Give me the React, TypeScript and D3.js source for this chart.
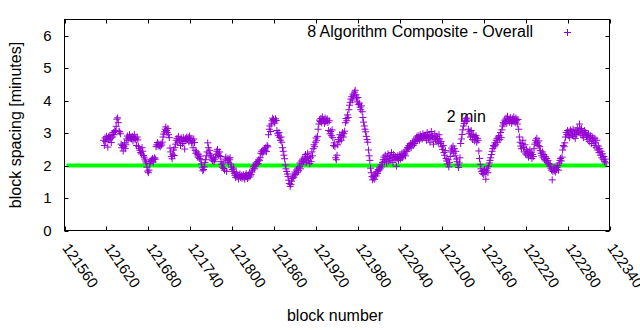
import React from "react";
import * as d3 from "d3";

// ---- data ----
const seriesName = "8 Algorithm Composite - Overall";
const firstBlock = 121616;
const spacing: number[] = [
  2.78, 2.62, 2.85, 2.74, 2.90, 2.81, 2.57, 2.88, 2.79, 2.93, 2.84, 2.71, 2.96, 2.88, 3.02, 2.95, 3.08, 3.05, 3.21, 3.43,
  3.47, 3.32, 3.06, 3.04, 2.98, 2.66, 2.55, 2.62, 2.45, 2.58, 2.70, 2.52, 2.64, 2.82, 2.91, 2.78, 2.86, 2.95, 2.84, 2.88,
  2.82, 2.90, 2.76, 2.87, 2.95, 2.80, 2.84, 2.62, 2.88, 2.79, 2.58, 2.52, 2.47, 2.40, 2.36, 2.55, 2.44, 2.31, 2.26, 2.20,
  2.14, 2.08, 1.95, 1.83, 1.78, 1.86, 2.06, 2.12, 2.18, 2.15, 2.22, 2.11, 2.19, 2.24, 2.20, 2.58, 2.64, 2.71, 2.60, 2.66,
  2.62, 2.58, 2.67, 2.63, 2.72, 2.88, 2.97, 3.04, 3.12, 3.19, 3.08, 3.02, 3.14, 2.95, 2.86, 2.54, 2.42, 2.28, 2.21, 2.35,
  2.48, 2.31, 2.55, 2.66, 2.78, 2.84, 2.72, 2.90, 2.81, 2.76, 2.62, 2.85, 2.79, 2.68, 2.87, 2.74, 2.51, 2.83, 2.77, 2.88,
  2.80, 2.86, 2.73, 2.91, 2.78, 2.84, 2.69, 2.76, 2.55, 2.82, 2.71, 2.47, 2.38, 2.42, 2.33, 2.26, 2.35, 2.22, 2.29, 2.18,
  2.05, 1.93, 1.84, 1.88, 1.96, 2.10, 2.18, 2.30, 2.42, 2.70, 2.55, 2.38, 2.47, 2.32, 2.26, 2.20, 2.15, 2.23, 2.12, 2.18,
  2.24, 2.35, 2.44, 2.50, 2.38, 2.31, 2.42, 2.28, 2.12, 2.04, 1.95, 2.08, 1.91, 1.86, 2.20, 2.26, 1.82, 2.15, 2.22, 2.10,
  2.18, 2.24, 2.05, 1.95, 1.88, 1.82, 1.92, 1.76, 1.70, 1.63, 1.78, 1.66, 1.72, 1.59, 1.68, 1.74, 1.64, 1.70, 1.61, 1.67,
  1.72, 1.63, 1.58, 1.69, 1.75, 1.66, 1.60, 1.71, 1.64, 1.78, 1.68, 1.73, 1.80, 1.86, 1.92, 1.98, 1.90, 2.02, 2.08, 2.04,
  2.12, 2.06, 2.18, 2.15, 2.24, 2.38, 2.44, 2.36, 2.48, 2.42, 2.51, 2.46, 2.55, 2.43, 2.62, 2.58, 2.95, 3.12, 3.22, 3.05,
  3.28, 3.38, 3.46, 3.42, 3.35, 3.31, 3.44, 3.39, 3.08, 2.98, 2.92, 3.02, 2.86, 2.78, 2.88, 2.72, 2.55, 2.44, 2.32, 2.21,
  2.02, 1.90, 1.82, 1.74, 1.66, 1.55, 1.45, 1.36, 1.42, 1.52, 1.60, 1.68, 1.64, 1.74, 1.80, 1.72, 1.86, 1.78, 1.92, 1.84,
  1.96, 2.08, 1.90, 2.14, 2.05, 2.20, 2.12, 2.26, 2.18, 2.34, 2.10, 2.22, 2.38, 2.16, 2.28, 2.06, 2.24, 2.12, 2.42, 2.30,
  2.52, 2.64, 2.58, 2.72, 2.85, 2.78, 2.90, 3.12, 3.28, 3.40, 3.36, 3.45, 3.32, 3.50, 3.38, 3.42, 3.30, 3.46, 3.35, 3.40,
  3.44, 3.33, 3.08, 3.38, 2.98, 3.05, 2.92, 3.10, 2.86, 2.62, 2.70, 2.58, 2.24, 2.18, 2.32, 2.64, 2.80, 2.74, 2.95, 2.86,
  2.78, 2.92, 3.02, 2.88, 2.98, 3.06, 3.32, 3.45, 3.38, 3.56, 3.48, 3.72, 3.86, 3.95, 4.05, 4.12, 4.02, 4.20, 4.15, 4.26,
  4.32, 4.18, 4.08, 3.96, 4.10, 3.88, 3.92, 3.80, 3.72, 3.84, 3.66, 3.48, 3.34, 3.22, 3.12, 3.04, 2.90, 2.80, 2.72, 2.48,
  2.30, 2.16, 1.92, 1.78, 1.66, 1.56, 1.62, 1.70, 1.58, 1.74, 1.68, 1.82, 1.76, 1.88, 1.84, 1.95, 1.90, 2.02, 1.96, 2.10,
  2.18, 2.26, 2.12, 2.32, 2.20, 2.08, 2.28, 2.36, 2.14, 2.22, 2.30, 2.16, 2.40, 2.24, 2.10, 2.34, 2.26, 2.19, 2.28, 1.98,
  2.22, 2.30, 2.16, 2.25, 2.34, 2.20, 2.28, 2.38, 2.24, 2.32, 2.42, 2.36, 2.30, 2.48, 2.44, 2.56, 2.52, 2.62, 2.58, 2.68,
  2.55, 2.64, 2.70, 2.62, 2.76, 2.68, 2.82, 2.74, 2.88, 2.80, 2.92, 2.86, 2.78, 2.95, 2.84, 2.90, 2.82, 2.98, 2.88, 2.93,
  2.86, 2.94, 2.78, 3.02, 2.90, 2.84, 2.96, 2.72, 2.88, 3.05, 2.82, 2.92, 2.66, 2.86, 2.98, 2.80, 2.90, 2.75, 2.84, 2.70,
  2.95, 2.82, 2.68, 2.74, 2.58, 2.50, 2.62, 2.40, 2.32, 2.46, 2.22, 2.14, 2.05, 2.18, 1.96, 2.10, 2.28, 2.42, 2.54, 2.48,
  2.60, 2.38, 2.52, 2.30, 2.44, 2.20, 2.12, 2.02, 1.94, 2.08, 2.24, 2.68, 2.82, 2.96, 3.10, 3.22, 3.30, 3.38, 3.44, 3.36,
  3.46, 3.40, 3.12, 2.98, 3.04, 2.88, 3.08, 2.94, 2.80, 2.96, 2.90, 2.76, 2.86, 2.92, 2.72, 2.84, 2.78, 2.45, 2.22, 2.04,
  1.90, 1.82, 1.76, 1.85, 1.72, 1.88, 1.80, 1.58, 1.84, 1.92, 1.78, 1.98, 2.08, 2.16, 2.24, 2.34, 2.44, 2.52, 2.62, 2.58,
  2.70, 2.64, 2.78, 2.84, 2.72, 2.88, 2.92, 2.80, 3.02, 2.86, 3.10, 3.22, 3.32, 3.28, 3.40, 3.36, 3.46, 3.30, 3.52, 3.38,
  3.42, 3.34, 3.48, 3.38, 3.30, 3.44, 3.36, 3.50, 3.40, 3.32, 3.46, 3.38, 3.28, 3.42, 3.12, 2.88, 2.72, 2.60, 2.52, 2.68,
  2.78, 2.56, 2.42, 2.64, 2.36, 2.50, 2.32, 2.44, 2.26, 2.38, 2.48, 2.30, 2.40, 2.22, 2.34, 2.28, 2.52, 2.66, 2.78, 2.72,
  2.84, 2.70, 2.62, 2.76, 2.58, 2.46, 2.38, 2.30, 2.42, 2.24, 2.34, 2.18, 2.28, 2.14, 2.22, 2.10, 2.16, 2.06, 1.98, 2.04,
  1.92, 1.86, 1.56, 1.82, 1.90, 1.84, 1.95, 1.80, 1.88, 1.94, 2.00, 1.86, 2.08, 2.16, 2.22, 2.14, 2.26, 2.48, 2.62, 2.58,
  2.70, 2.88, 3.02, 2.96, 3.08, 2.92, 3.04, 2.86, 3.10, 2.98, 3.06, 2.94, 3.12, 2.90, 3.00, 2.84, 3.08, 2.96, 3.16, 3.02,
  3.06, 3.28, 3.12, 2.98, 3.14, 2.92, 3.04, 2.86, 3.08, 2.96, 3.02, 2.88, 2.94, 2.80, 2.98, 2.74, 2.86, 2.92, 2.68, 2.82,
  2.88, 2.76, 2.62, 2.84, 2.70, 2.55, 2.78, 2.48, 2.60, 2.40, 2.52, 2.32, 2.44, 2.24, 2.36, 2.18, 2.28, 2.12, 2.20, 2.08,
];
const xTicks = [121560, 121620, 121680, 121740, 121800, 121860, 121920, 121980, 122040, 122100, 122160, 122220, 122280, 122340];
const yTicks = [0, 1, 2, 3, 4, 5, 6];
const xDomain = [121560, 122340];
const yDomain = [0, 6.5];
const targetMinutes = 2;
const targetLabel = "2 min";
const targetLabelPos = [122107, 3.5];
const xTitle = "block number";
const yTitle = "block spacing [minutes]";

const W = 640, H = 330;
const M = { left: 64.5, right: 609.5, top: 19.5, bottom: 230.5 };
const FONT = "'Liberation Sans', Arial, Helvetica, sans-serif";
const PURPLE = "#9400d3";
const GREEN = "#00ff00";

export default function App() {
  const x = d3.scaleLinear().domain(xDomain).range([M.left, M.right]);
  const y = d3.scaleLinear().domain(yDomain).range([M.bottom, M.top]);
  const pts = spacing.map((v, i) => ({ b: firstBlock + i, v }));
  const tl = 4;
  const ms = 3.5;
  const plus = (cx: number, cy: number) =>
    `M${cx - ms},${cy}H${cx + ms}M${cx},${cy - ms}V${cy + ms}`;
  const pointPath = pts.map((p) => plus(x(p.b), y(p.v))).join("");

  return (
    <svg
      width={W}
      height={H}
      style={{ position: "absolute", left: 0, top: 0, background: "#fff" }}
      fontFamily={FONT}
      fontSize={16}
    >
      <rect x={0} y={0} width={W} height={H} fill="#fff" />
      {/* target line */}
      <line
        x1={M.left + 2}
        x2={M.right - 2}
        y1={y(targetMinutes)}
        y2={y(targetMinutes)}
        stroke={GREEN}
        strokeWidth={4}
      />
      <text
        x={x(targetLabelPos[0])}
        y={y(targetLabelPos[1])}
        dy="0.35em"
        fill="#000"
      >
        {targetLabel}
      </text>
      {/* points */}
      <path d={pointPath} stroke={PURPLE} strokeWidth={1} fill="none" />
      {/* frame */}
      <rect
        x={M.left}
        y={M.top}
        width={M.right - M.left}
        height={M.bottom - M.top}
        fill="none"
        stroke="#000"
        strokeWidth={1}
      />
      {/* y ticks */}
      {yTicks.map((t) => (
        <g key={"y" + t}>
          <line x1={M.left} x2={M.left + tl} y1={Math.round(y(t)) + 0.5} y2={Math.round(y(t)) + 0.5} stroke="#000" />
          <line x1={M.right} x2={M.right - tl} y1={Math.round(y(t)) + 0.5} y2={Math.round(y(t)) + 0.5} stroke="#000" />
          <text x={51.5} y={y(t)} dy="0.35em" textAnchor="end" fontSize={15} fill="#000">
            {t}
          </text>
        </g>
      ))}
      {/* x ticks */}
      {xTicks.map((t) => {
        const px = Math.round(x(t)) + 0.5;
        return (
          <g key={"x" + t}>
            <line x1={px} x2={px} y1={M.bottom} y2={M.bottom - tl} stroke="#000" />
            <line x1={px} x2={px} y1={M.top} y2={M.top + tl} stroke="#000" />
            <text
              transform={`translate(${x(t) - 2.7},248) rotate(55)`}
              textAnchor="start"
              fontSize={15}
              fill="#000"
            >
              {t}
            </text>
          </g>
        );
      })}
      {/* titles */}
      <text x={335} y={321} textAnchor="middle" fill="#000">
        {xTitle}
      </text>
      <text
        transform={`translate(20.5,${(M.top + M.bottom) / 2}) rotate(-90)`}
        textAnchor="middle"
        fill="#000"
      >
        {yTitle}
      </text>
      {/* legend */}
      <text x={533} y={37} textAnchor="end" fill="#000">
        {seriesName}
      </text>
      <path d={plus(567.5, 32.5)} stroke={PURPLE} strokeWidth={1} fill="none" />
    </svg>
  );
}
